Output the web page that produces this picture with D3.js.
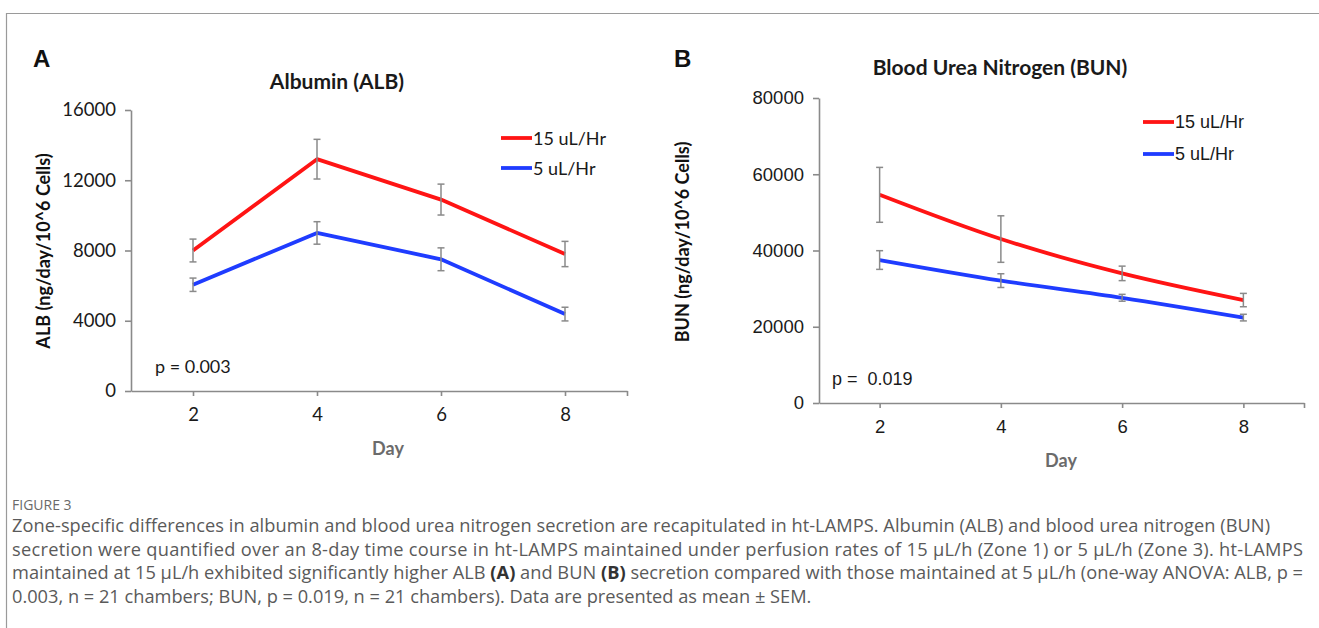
<!DOCTYPE html>
<html>
<head>
<meta charset="utf-8">
<script src="https://cdn.jsdelivr.net/npm/d3@7"></script>
<style>
  body { margin: 0; background: #fff; }
  svg { display: block; }
</style>
</head>
<body>
<svg width="1319" height="628"></svg>
<script>
// data
var days = [2, 4, 6, 8];
var seriesNames = ["15 uL/Hr", "5 uL/Hr"];

var albHigh = [8000, 13200, 10900, 7800];
var albHighErr = [650, 1130, 880, 720];
var albLow = [6050, 9000, 7500, 4380];
var albLowErr = [380, 640, 650, 390];

var bunHigh = [54600, 43000, 34000, 27000];
var bunHighErr = [7200, 6100, 1900, 1750];
var bunLow = [37500, 32100, 27600, 22400];
var bunLowErr = [2450, 1800, 900, 870];

var albTicks = [0, 4000, 8000, 12000, 16000];
var bunTicks = [0, 20000, 40000, 60000, 80000];
var dayTicks = [2, 4, 6, 8, 9];

var captionHead = "FIGURE 3";
var captionLines = [
  "Zone-specific differences in albumin and blood urea nitrogen secretion are recapitulated in ht-LAMPS. Albumin (ALB) and blood urea nitrogen (BUN)",
  "secretion were quantified over an 8-day time course in ht-LAMPS maintained under perfusion rates of 15 \u03bcL/h (Zone 1) or 5 \u03bcL/h (Zone 3). ht-LAMPS",
  "maintained at 15 \u03bcL/h exhibited significantly higher ALB (A) and BUN (B) secretion compared with those maintained at 5 \u03bcL/h (one-way ANOVA: ALB, p =",
  "0.003, n = 21 chambers; BUN, p = 0.019, n = 21 chambers). Data are presented as mean \u00b1 SEM."
];
// right ends of the first three caption lines in the figure
var captionEnds = [1270, 1303, 1303];

var red = "#ff1414";
var blue = "#1f3cff";
var gray = "#8a8a8a";

var svg = d3.select("svg");

// frame lines of the figure box
svg.append("line").attr("x1", 6).attr("x2", 1319).attr("y1", 13.5).attr("y2", 13.5)
  .attr("stroke", "#9a9a9a").attr("stroke-width", 1.2);
svg.append("line").attr("x1", 6.5).attr("x2", 6.5).attr("y1", 13).attr("y2", 628)
  .attr("stroke", "#9a9a9a").attr("stroke-width", 1.2);

function drawPanel(p) {
  var x = d3.scaleLinear().domain([1, 9]).range([p.x0, p.x1]);
  var y = d3.scaleLinear().domain([0, p.yMax]).range([p.y0, p.y1]);
  var g = svg.append("g");

  // panel letter and title
  g.append("text").attr("x", p.letterX).attr("y", p.letterY).text(p.letter)
    .attr("font-family", "Liberation Sans, Arial, sans-serif").attr("font-weight", "bold")
    .attr("font-size", 24).attr("fill", "#111");
  g.append("text").attr("x", p.titleX).attr("y", p.titleY).text(p.title)
    .attr("text-anchor", "middle").attr("font-family", p.titleFont)
    .attr("font-weight", "bold").attr("font-size", 21).attr("fill", "#1a1a1a");

  // axes
  var yAxis = g.append("g").attr("transform", "translate(" + p.x0 + ",0)")
    .call(d3.axisLeft(y).tickValues(p.yTicks).tickSize(6).tickSizeOuter(0).tickPadding(9)
      .tickFormat(d3.format("d")));
  var xAxis = g.append("g").attr("transform", "translate(0," + p.y0 + ")")
    .call(d3.axisBottom(x).tickValues(dayTicks).tickSize(5).tickSizeOuter(0).tickPadding(12)
      .tickFormat(function(d) { return d === 9 ? "" : d; }));
  [yAxis, xAxis].forEach(function(a) {
    a.selectAll("path, line").attr("stroke", gray).attr("stroke-width", 1.6);
    a.selectAll("text").attr("font-family", p.tickFont).attr("font-size", 18.5).attr("fill", "#1a1a1a");
  });

  // axis titles
  g.append("text").attr("transform", "translate(" + p.yLabelX + "," + p.yLabelY + ") rotate(-90)")
    .attr("text-anchor", "middle").attr("dominant-baseline", "central").text(p.yLabel)
    .attr("font-family", "Lato, 'Open Sans', sans-serif").attr("font-weight", "bold")
    .attr("font-size", 18).attr("fill", "#111");
  g.append("text").attr("x", p.dayX).attr("y", p.dayY).text("Day")
    .attr("text-anchor", "middle").attr("font-family", "Lato, 'Open Sans', sans-serif")
    .attr("font-weight", "bold").attr("font-size", 18).attr("fill", "#6b6b6b");

  // p value
  g.append("text").attr("x", p.pX).attr("y", p.pY).text(p.pText).attr("xml:space", "preserve")
    .style("white-space", "pre")
    .attr("font-family", p.tickFont).attr("font-size", 18).attr("fill", "#1a1a1a");

  var series = [
    { name: seriesNames[0], vals: p.high, err: p.highErr, color: red },
    { name: seriesNames[1], vals: p.low, err: p.lowErr, color: blue }
  ];

  var line = d3.line()
    .x(function(d, i) { return x(days[i]); })
    .y(function(d) { return y(d); })
    .curve(p.smooth ? d3.curveCatmullRom.alpha(0.5) : d3.curveLinear);

  series.forEach(function(s) {
    g.append("path").datum(s.vals).attr("d", line)
      .attr("fill", "none").attr("stroke", s.color).attr("stroke-width", 3.8)
      .attr("stroke-linejoin", "round");
  });

  // error bars on top
  series.forEach(function(s) {
    var eb = g.append("g");
    s.vals.forEach(function(v, i) {
      var cx = x(days[i]);
      var top = y(v + s.err[i]);
      var bot = y(v - s.err[i]);
      eb.append("line").attr("x1", cx).attr("x2", cx).attr("y1", top).attr("y2", bot);
      eb.append("line").attr("x1", cx - 3.5).attr("x2", cx + 3.5).attr("y1", top).attr("y2", top);
      eb.append("line").attr("x1", cx - 3.5).attr("x2", cx + 3.5).attr("y1", bot).attr("y2", bot);
    });
    eb.selectAll("line").attr("stroke", gray).attr("stroke-width", 1.5);
  });

  // legend
  series.forEach(function(s, i) {
    var ly = p.legY + i * p.legGap;
    g.append("line").attr("x1", p.legX).attr("x2", p.legX + 31).attr("y1", ly).attr("y2", ly)
      .attr("stroke", s.color).attr("stroke-width", 3.8);
    g.append("text").attr("x", p.legX + 32).attr("y", ly).attr("dominant-baseline", "central")
      .text(s.name).attr("font-family", p.tickFont).attr("font-size", 18).attr("fill", "#1a1a1a");
  });
}

drawPanel({
  letter: "A", letterX: 33, letterY: 67,
  title: "Albumin (ALB)", titleX: 337, titleY: 89, titleFont: "Lato, 'Open Sans', sans-serif",
  tickFont: "Lato, 'Open Sans', sans-serif",
  x0: 131, x1: 627, y0: 391, y1: 110, yMax: 16000, yTicks: albTicks,
  yLabel: "ALB (ng/day/10^6 Cells)", yLabelX: 43, yLabelY: 251,
  dayX: 388, dayY: 455,
  pText: "p = 0.003", pX: 155, pY: 373,
  high: albHigh, highErr: albHighErr, low: albLow, lowErr: albLowErr, smooth: false,
  legX: 501, legY: 138, legGap: 30
});

drawPanel({
  letter: "B", letterX: 674, letterY: 67,
  title: "Blood Urea Nitrogen (BUN)", titleX: 1000, titleY: 75, titleFont: "Lato, 'Open Sans', sans-serif",
  tickFont: "Liberation Sans, Arial, sans-serif",
  x0: 819, x1: 1304, y0: 403, y1: 98, yMax: 80000, yTicks: bunTicks,
  yLabel: "BUN (ng/day/10^6 Cells)", yLabelX: 682, yLabelY: 242,
  dayX: 1061, dayY: 467,
  pText: "p =  0.019", pX: 832, pY: 385,
  high: bunHigh, highErr: bunHighErr, low: bunLow, lowErr: bunLowErr, smooth: true,
  legX: 1143, legY: 122, legGap: 32
});

// caption
var cap = svg.append("g");
cap.append("text").attr("x", 12).attr("y", 510).text(captionHead)
  .attr("font-family", "'Open Sans', sans-serif").attr("font-size", 14).attr("fill", "#6a6a6a");
var capText = cap.selectAll("text.line").data(captionLines).enter().append("text")
  .attr("class", "line").attr("x", 12)
  .attr("y", function(d, i) { return 532 + i * 23.7; })
  .attr("font-family", "'Open Sans', sans-serif").attr("font-size", 15).attr("fill", "#5a5a5a");
// panel letters in the caption are bold
capText.each(function(d) {
  var t = d3.select(this);
  d.split(/(\([AB]\))/).forEach(function(part) {
    if (!part) return;
    t.append("tspan").text(part)
      .attr("font-weight", /^\([AB]\)$/.test(part) ? "bold" : null)
      .attr("fill", /^\([AB]\)$/.test(part) ? "#333" : null);
  });
});
// size the font so the longest line fits, then pin the line ends
var wMax = d3.max(capText.nodes(), function(n) { return n.getComputedTextLength(); });
capText.attr("font-size", 15 * 1288 / wMax);
capText.filter(function(d, i) { return i < captionEnds.length; })
  .attr("textLength", function(d, i) { return captionEnds[i] - 12; })
  .attr("lengthAdjust", "spacing");
</script>
</body>
</html>
